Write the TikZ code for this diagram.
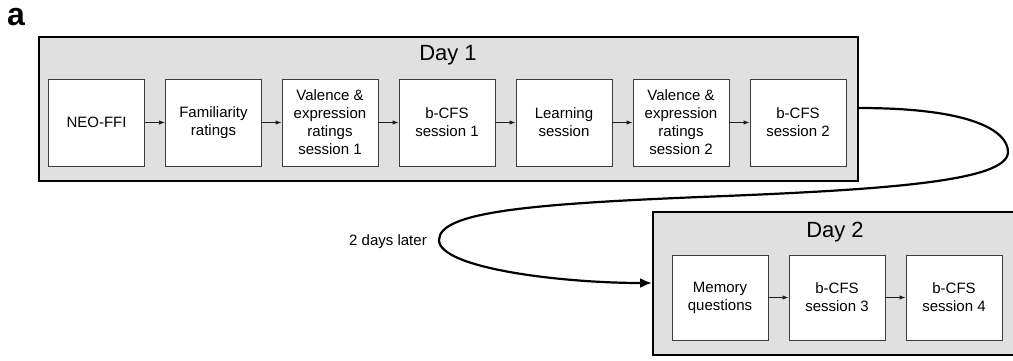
\documentclass[tikz,border=0pt]{standalone}
\usepackage{fontspec}
\setmainfont{Liberation Sans}
\usetikzlibrary{arrows.meta}
\definecolor{daygray}{RGB}{224,224,224}
\definecolor{boxgray}{RGB}{60,60,60}
\definecolor{arrowgray}{RGB}{30,30,30}
\begin{document}
\begin{tikzpicture}[x=1pt,y=-1pt,
  daybox/.style={draw=black, line width=2pt, fill=daygray, inner sep=0pt},
  stepbox/.style={draw=boxgray, line width=0.9pt, fill=white, minimum width=96pt,
    minimum height=87pt, align=center, inner sep=0pt,
    font=\fontsize{15}{18}\selectfont},
  stepbox2/.style={stepbox, minimum height=85pt},
  flow/.style={draw=arrowgray, line width=0.9pt, -{Latex[length=6pt,width=4.5pt]}},
  title/.style={font=\fontsize{22}{26}\selectfont},
  label/.style={font=\fontsize{15}{18}\selectfont}
]
\useasboundingbox (0,0) rectangle (1013,360);
\clip (0,0) rectangle (1013,360);

\node[font=\fontsize{32}{36}\selectfont\bfseries] (lbl) at (16,17) {a};

% Day 1
\node[daybox, minimum width=819pt, minimum height=144pt] (day1) at (448.5,109) {};
\node[title] (d1t) at (448,55) {Day 1};
\node[stepbox] (a1) at (96.5,122.5) {NEO-FFI};
\node[stepbox] (a2) at (213.5,122.5) {Familiarity\\ratings};
\node[stepbox] (a3) at (330,122.5) {Valence \&\\expression\\ratings\\session 1};
\node[stepbox] (a4) at (447,122.5) {b-CFS\\session 1};
\node[stepbox] (a5) at (564,122.5) {Learning\\session};
\node[stepbox] (a6) at (681,122.5) {Valence \&\\expression\\ratings\\session 2};
\node[stepbox] (a7) at (798,122.5) {b-CFS\\session 2};
\foreach \i/\j in {a1/a2,a2/a3,a3/a4,a4/a5,a5/a6,a6/a7}
  \draw[flow] (\i) -- (\j);

% Day 2
\node[daybox, minimum width=380pt, minimum height=143pt] (day2) at (843,283.5) {};
\node[title] (d2t) at (835,232) {Day 2};
\node[stepbox2] (b1) at (720,297.5) {Memory\\questions};
\node[stepbox2] (b2) at (837,297.5) {b-CFS\\session 3};
\node[stepbox2] (b3) at (954,297.5) {b-CFS\\session 4};
\draw[flow] (b1) -- (b2);
\draw[flow] (b2) -- (b3);

% connector
\coordinate (s) at (day1.east |- 0,108);
\coordinate (e) at (day2.west |- 0,283);
\draw[line width=2.2pt, -{Latex[length=12pt,width=10pt]}]
  (s) .. controls (975,108) and (1008,132) .. (1008,152)
      .. controls (1008,182) and (880,190) .. (700,197)
      .. controls (530,204) and (439,212) .. (439,240)
      .. controls (439,268) and (560,283) .. (e);

\node[label] (later) at (388,242) {2 days later};
\end{tikzpicture}
\end{document}
